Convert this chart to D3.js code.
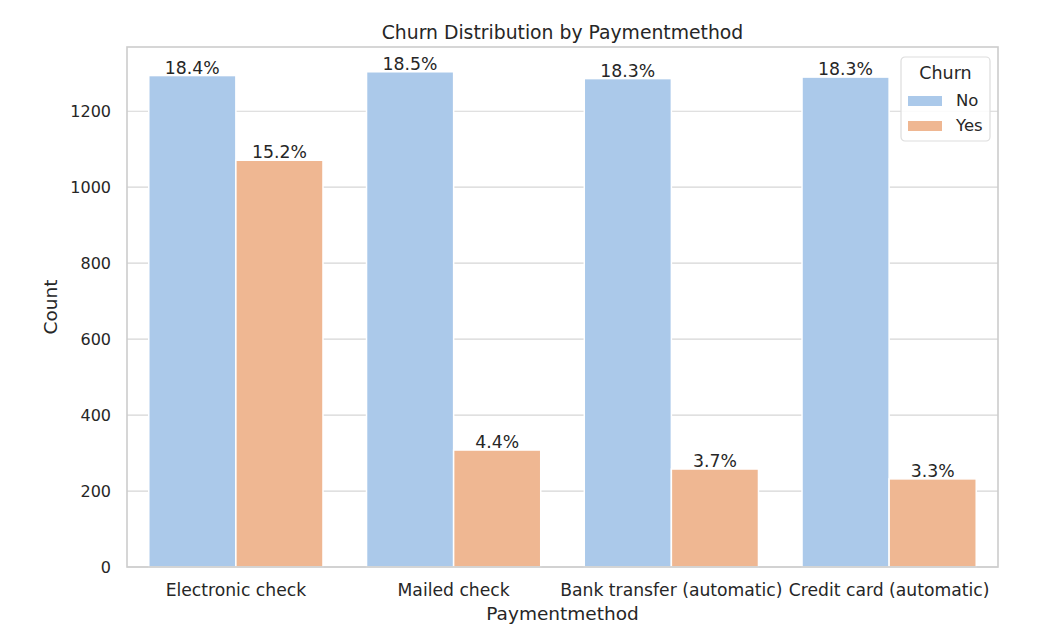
<!DOCTYPE html>
<html>
<head>
<meta charset="utf-8">
<script src="https://cdn.jsdelivr.net/npm/d3@7"></script>
<style>
  body { margin: 0; background: #fff; }
  text { font-family: "DejaVu Sans", sans-serif; fill: #262626; }
</style>
</head>
<body>
<div id="chart"></div>
<script>
// data
const methods = ["Electronic check", "Mailed check", "Bank transfer (automatic)", "Credit card (automatic)"];
const churnKeys = ["No", "Yes"];
const countNo = [1294, 1304, 1286, 1290];
const countYes = [1071, 308, 258, 232];
const yTicks = [0, 200, 400, 600, 800, 1000, 1200];
const colors = ["#abc9ea", "#efb792"];

const w = 1054, h = 628;
const margin = {top: 47, right: 56, bottom: 61, left: 127};
const width = w - margin.left - margin.right;
const height = h - margin.top - margin.bottom;

const total = d3.sum(countNo) + d3.sum(countYes);
const rows = [];
methods.forEach((m, i) => {
    rows.push({method: m, churn: "No", value: countNo[i]});
    rows.push({method: m, churn: "Yes", value: countYes[i]});
});

const svg = d3.select("#chart").append("svg")
    .attr("width", w)
    .attr("height", h);
const g = svg.append("g").attr("transform", `translate(${margin.left}, ${margin.top})`);

// scales
let x = d3.scaleBand()
    .domain(methods)
    .range([0, width])
    .paddingInner(0.2)
    .paddingOuter(0.1);
let xSub = d3.scaleBand()
    .domain(churnKeys)
    .range([0, x.bandwidth()]);
let y = d3.scaleLinear()
    .domain([0, d3.max(rows, d => d.value) * 1.05])
    .range([height, 0]);
let color = d3.scaleOrdinal().domain(churnKeys).range(colors);

// horizontal grid
g.append("g").selectAll("line")
    .data(yTicks)
    .enter().append("line")
    .attr("x1", 0).attr("x2", width)
    .attr("y1", d => y(d)).attr("y2", d => y(d))
    .style("stroke", "#d6d6d6")
    .style("stroke-width", 1.2);

// y axis labels
const yAxis = g.append("g")
    .call(d3.axisLeft(y).tickValues(yTicks).tickFormat(d3.format("d")).tickSize(0).tickPadding(16));
yAxis.select(".domain").remove();
yAxis.selectAll("text")
    .style("font-size", "16px")
    .style("fill", "#262626")
    .attr("font-family", null);

// x axis labels
const xAxis = g.append("g")
    .attr("transform", `translate(0, ${height})`)
    .call(d3.axisBottom(x).tickSize(0).tickPadding(17));
xAxis.select(".domain").remove();
xAxis.selectAll("text")
    .style("font-size", "17.2px")
    .style("fill", "#262626")
    .attr("font-family", null);

// bars
g.append("g").selectAll("rect")
    .data(rows)
    .enter().append("rect")
    .attr("x", d => x(d.method) + xSub(d.churn))
    .attr("y", d => y(d.value))
    .attr("width", xSub.bandwidth())
    .attr("height", d => height - y(d.value))
    .style("fill", d => color(d.churn))
    .style("stroke", "#fff")
    .style("stroke-width", 1.5);

// percentage labels
g.append("g").selectAll("text")
    .data(rows)
    .enter().append("text")
    .attr("x", d => x(d.method) + xSub(d.churn) + xSub.bandwidth() / 2)
    .attr("y", d => y(d.value) - 2)
    .attr("text-anchor", "middle")
    .style("font-size", "17.3px")
    .text(d => (d.value / total * 100).toFixed(1) + "%");

// frame
g.append("rect")
    .attr("width", width).attr("height", height)
    .style("fill", "none")
    .style("stroke", "#cccccc")
    .style("stroke-width", 1.6);

// titles
svg.append("text")
    .attr("x", margin.left + width / 2)
    .attr("y", 39)
    .attr("text-anchor", "middle")
    .style("font-size", "18.8px")
    .text("Churn Distribution by Paymentmethod");
svg.append("text")
    .attr("x", margin.left + width / 2)
    .attr("y", 620)
    .attr("text-anchor", "middle")
    .style("font-size", "18.5px")
    .text("Paymentmethod");
svg.append("text")
    .attr("transform", `translate(57, ${margin.top + height / 2}) rotate(-90)`)
    .attr("text-anchor", "middle")
    .style("font-size", "18.5px")
    .text("Count");

// legend
const legend = svg.append("g").attr("transform", "translate(901, 57)");
legend.append("rect")
    .attr("width", 89).attr("height", 84)
    .attr("rx", 4)
    .style("fill", "#fff")
    .style("fill-opacity", 0.85)
    .style("stroke", "#dddddd")
    .style("stroke-width", 1.2);
legend.append("text")
    .attr("x", 44.5).attr("y", 22)
    .attr("text-anchor", "middle")
    .style("font-size", "17.5px")
    .text("Churn");
const items = legend.selectAll(".item")
    .data(churnKeys)
    .enter().append("g")
    .attr("class", "item")
    .attr("transform", (d, i) => `translate(7, ${39 + i * 25})`);
items.append("rect")
    .attr("width", 34).attr("height", 10)
    .style("fill", d => color(d));
items.append("text")
    .attr("x", 48).attr("y", 10)
    .style("font-size", "16.5px")
    .text(d => d);
</script>
</body>
</html>
